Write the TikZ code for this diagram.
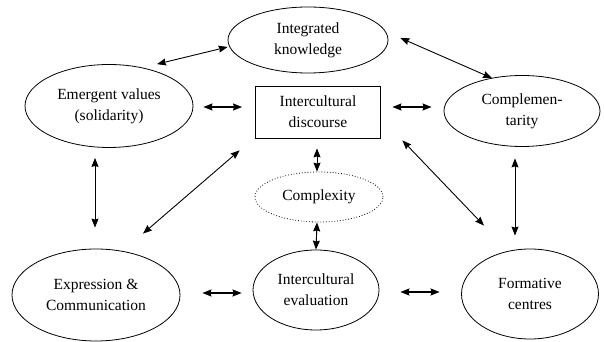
\documentclass[tikz,border=0pt]{standalone}
\usepackage{fontspec}
\setmainfont{Liberation Serif}
\newfontfamily\ovalfont{Liberation Serif}
\usepackage{tikz}
\usetikzlibrary{shapes.geometric, arrows.meta}
\tikzstyle{oval} = [ellipse, draw, line width=0.8pt, text centered, align=center, inner sep=0pt]
\tikzstyle{box} = [rectangle, draw, line width=0.8pt, text centered, align=center, minimum width=125pt, minimum height=52pt]
\tikzstyle{arrow} = [line width=0.9pt, <->, >={Stealth[length=9pt, width=7pt, inset=1pt]}]
\tikzstyle{harrow} = [arrow, line width=1.5pt]

\begin{document}
\begin{tikzpicture}[x=1pt, y=1pt, font=\ovalfont\fontsize{15.5}{21}\selectfont]
  \useasboundingbox (0,0) rectangle (604,342);
  \node (disc) [box] at (318,230) {Intercultural\\discourse};
  \node (know) [oval, minimum width=160pt, minimum height=66pt, node distance=72pt, above of=disc, xshift=-10pt] {Integrated\\knowledge};
  \node (emerg) [oval, minimum width=168pt, minimum height=83pt, node distance=209pt, left of=disc, yshift=6pt] {Emergent values\\(solidarity)};
  \node (compl) [oval, minimum width=156pt, minimum height=71pt, node distance=204pt, right of=disc, yshift=1pt] {Complemen-\\tarity};
  \node (cplx) [oval, dotted, minimum width=128pt, minimum height=50pt, node distance=85pt, below of=disc, xshift=1pt] {Complexity};
  \node (eval) [oval, minimum width=126pt, minimum height=80pt, node distance=93pt, below of=cplx, xshift=-3pt] {Intercultural\\evaluation};
  \node (expr) [oval, minimum width=168pt, minimum height=92pt, node distance=220pt, left of=eval, yshift=-5pt] {Expression \&\\Communication};
  \node (form) [oval, minimum width=137pt, minimum height=90pt, node distance=214pt, right of=eval, yshift=-4pt] {Formative\\centres};

  \draw [arrow] ([yshift=-7pt]know.west) -- ([xshift=48pt]emerg.north);
  \draw [arrow] ([xshift=12pt,yshift=2pt]know.east) -- ([xshift=-30pt,yshift=-3pt]compl.north);
  \draw [harrow] ([xshift=10pt,yshift=-1pt]emerg.east) -- ([xshift=-13pt,yshift=5pt]disc.west);
  \draw [harrow] ([xshift=11.5pt,yshift=5pt]disc.east) -- ([xshift=-12pt,yshift=4pt]compl.west);
  \draw [arrow] ([xshift=-14pt,yshift=-10pt]emerg.south) -- ([xshift=-1pt,yshift=21pt]expr.north);
  \draw [arrow] ([xshift=47pt,yshift=15pt]expr.north) -- ([xshift=-15.5pt,yshift=-12pt]disc.south west);
  \draw [arrow] ([xshift=-1pt,yshift=-10pt]disc.south) -- ([xshift=-2pt]cplx.north);
  \draw [arrow] ([xshift=-2pt]cplx.south) -- (eval.north);
  \draw [arrow] ([xshift=21.5pt,yshift=-2pt]disc.south east) -- ([xshift=-46pt,yshift=23pt]form.north);
  \draw [arrow] ([xshift=-7pt,yshift=-11.5pt]compl.south) -- ([xshift=-15pt,yshift=13pt]form.north);
  \draw [harrow] ([xshift=22pt,yshift=2pt]expr.east) -- ([xshift=-11pt,yshift=-3pt]eval.west);
  \draw [harrow] ([xshift=21pt,yshift=-2pt]eval.east) -- ([xshift=-21.5pt,yshift=2pt]form.west);
\end{tikzpicture}
\end{document}
